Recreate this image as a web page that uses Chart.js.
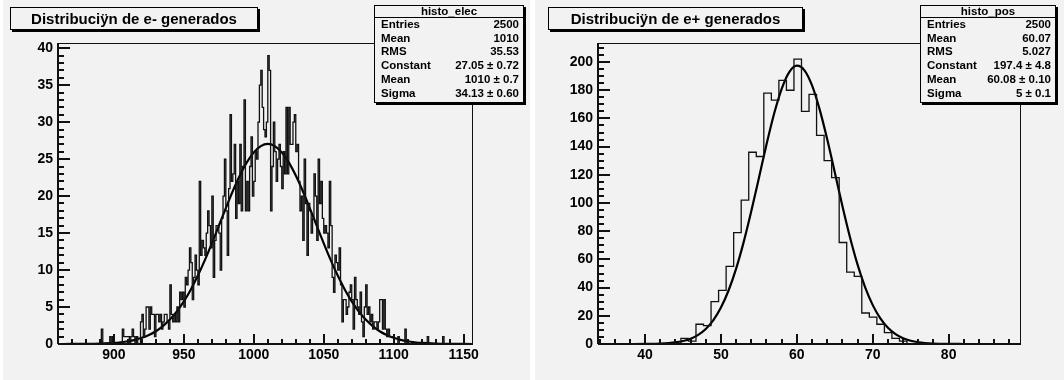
<!DOCTYPE html>
<html>
<head>
<meta charset="utf-8">
<script src="https://cdn.jsdelivr.net/npm/chart.js@4.4.1/dist/chart.umd.min.js"></script>
<style>
html, body { margin: 0; padding: 0; background: #fff; }
#wrap { position: relative; width: 1064px; height: 380px; overflow: hidden; }
.pad { position: absolute; top: 0; height: 380px; background: #f2f2f2; }
canvas { position: absolute; top: 0; }
</style>
</head>
<body>
<div id="wrap">
  <div class="pad" style="left:3px;width:527px"></div>
  <div class="pad" style="left:535px;width:529px"></div>
  <canvas id="elecChart" width="532" height="380" style="left:0"></canvas>
  <canvas id="posChart" width="532" height="380" style="left:532px"></canvas>
</div>
<script>
// histo_elec: bins of width 1 starting at 860
var elecFirstEdge = 860;
var elecBinWidth = 1;
var elecCounts = [
  0,0,0,0,0,0,0,0,0,0,
  0,0,0,0,0,0,0,0,0,0,
  0,0,0,0,0,0,0,0,0,0,
  0,0,2,0,0,0,0,0,1,0,
  1,0,0,0,0,0,0,2,1,1,
  1,1,0,1,2,1,0,1,0,0,
  3,4,1,2,5,5,2,5,4,4,
  1,4,4,3,4,2,3,4,4,3,
  2,8,4,3,4,3,5,3,7,6,
  7,5,9,8,10,13,11,6,9,12,
  10,8,22,12,14,13,12,15,18,16,
  13,20,9,14,16,16,15,10,17,20,
  25,18,12,21,31,22,23,27,17,22,
  19,27,18,24,33,18,22,18,24,28,
  20,22,26,25,30,35,37,32,29,28,
  30,39,37,18,24,30,26,22,25,27,
  24,21,26,23,32,23,32,27,27,30,
  31,26,27,22,18,20,14,25,19,12,
  19,18,15,17,23,20,14,25,19,22,
  17,15,16,15,13,22,16,9,7,12,
  11,10,13,8,3,6,6,4,5,7,
  8,6,2,9,6,5,4,7,3,1,
  5,8,4,5,3,4,2,3,3,2,
  3,6,6,2,6,2,1,2,1,1,
  1,0,0,0,1,0,0,0,0,2,
  0,0,0,0,0,0,0,0,0,0,
  0,0,0,0,0,1,0,0,0,0,
  0,0,0,0,0,0,1,0,0,0,
  0,0,0,0,0,0,0,0,0,0,
  0,0,0,0,0,0,0,0,0,0
];
var elecFitX = [860,870,880,890,900,905,910,915,920,925,930,935,940,945,950,955,960,965,970,975,980,985,990,995,
  1000,1005,1010,1015,1020,1025,1030,1035,1040,1045,1050,1055,1060,1065,1070,1075,1080,1085,1090,1095,
  1100,1105,1110,1115,1120,1130,1140,1150,1160];
var elecFitY = [0.002,0.006,0.02,0.06,0.15,0.24,0.37,0.56,0.84,1.22,1.73,2.42,3.30,4.41,5.77,7.38,9.25,11.34,13.61,15.99,18.38,20.69,22.78,24.56,
  25.91,26.76,27.05,26.76,25.91,24.56,22.78,20.69,18.38,15.99,13.61,11.34,9.25,7.38,5.77,4.41,3.30,2.42,1.73,1.22,
  0.84,0.56,0.37,0.24,0.15,0.056,0.019,0.006,0.002];
var elecXTicks = [900, 950, 1000, 1050, 1100, 1150];
var elecYTicks = [0, 5, 10, 15, 20, 25, 30, 35, 40];
var elecStats = [
  ['Entries', '2500'],
  ['Mean', '1010'],
  ['RMS', '35.53'],
  ['Constant', '27.05 \u00b1 0.72'],
  ['Mean', '1010 \u00b1 0.7'],
  ['Sigma', '34.13 \u00b1 0.60']
];

// histo_pos: 56 bins between 33.8 and 89.4
var posFirstEdge = 33.8;
var posBinWidth = 0.993;
var posCounts = [
  0,0,0,0,0,0,0,0,0,0,0,0,
  4,2,14,13,30,38,55,79,102,136,133,178,173,187,180,202,
  165,177,148,130,118,72,51,48,22,19,14,8,4,2,
  0,0,0,0,0,0,0,0,0,0,0,0,0,0
];
var posFitX = [33.8,36,38,40,42,44,45,46,47,48,49,50,51,52,53,54,55,56,57,58,59,60,61,62,63,64,65,66,67,68,69,70,
  71,72,73,74,75,76,78,80,82,84,86,89.4];
var posFitY = [0,0.002,0.011,0.06,0.29,1.12,2.09,3.74,6.45,10.66,16.94,25.88,37.96,53.5,72.43,94.26,117.8,141.5,163.3,181.0,192.9,197.4,
  194.1,183.4,166.4,145.2,121.7,97.95,75.76,56.3,40.21,27.58,18.18,11.51,7.0,4.1,2.3,1.24,0.32,0.07,0.013,0.002,0,0];
var posXTicks = [40, 50, 60, 70, 80];
var posYTicks = [0, 20, 40, 60, 80, 100, 120, 140, 160, 180, 200];
var posStats = [
  ['Entries', '2500'],
  ['Mean', '60.07'],
  ['RMS', '5.027'],
  ['Constant', '197.4 \u00b1 4.8'],
  ['Mean', '60.08 \u00b1 0.10'],
  ['Sigma', '5 \u00b1 0.1']
];

var PAD_BG = '#f2f2f2';
var FONT = '"Liberation Sans", Arial, Helvetica, sans-serif';

// per-canvas decoration (kept outside chart options)
var decor = {
  elecChart: { title: 'Distribuci\u00ffn de e- generados', titleBox: [10, 7, 248, 23],
    statsName: 'histo_elec', statsBox: [374, 5, 150, 98], stats: elecStats,
    xMin: 860, xMax: 1156, yMax: 40.7,
    yMinor: 1, yPer: 5, xMinor: 10, xPer: 5 },
  posChart: { title: 'Distribuci\u00ffn de e+ generados', titleBox: [16, 7, 255, 23],
    statsName: 'histo_pos', statsBox: [388, 5, 136, 98], stats: posStats,
    xMin: 33.8, xMax: 89.4, yMax: 213.5,
    yMinor: 5, yPer: 4, xMinor: 2, xPer: 5 }
};

function histPoints(first, width, counts) {
  var pts = [];
  for (var i = 0; i < counts.length; i++) {
    pts.push({ x: first + i * width, y: counts[i] });
  }
  pts.push({ x: first + counts.length * width, y: counts[counts.length - 1] });
  return pts;
}

function fitPoints(xs, ys) {
  return xs.map(function (x, i) { return { x: x, y: ys[i] }; });
}

function paveBox(ctx, x, y, w, h) {
  ctx.fillStyle = '#000';
  ctx.fillRect(x + 2, y + 2, w, h);
  ctx.fillStyle = PAD_BG;
  ctx.fillRect(x, y, w, h);
  ctx.strokeStyle = '#000';
  ctx.lineWidth = 1;
  ctx.strokeRect(x + 0.5, y + 0.5, w - 1, h - 1);
}

// pixel of a value on a scale, falling back to the chart area if the scale gives no number
function scalePx(scale, v, lo, hi, p0, p1) {
  var p = scale.getPixelForValue(v);
  if (typeof p !== 'number' || !isFinite(p)) p = p0 + (v - lo) / (hi - lo) * (p1 - p0);
  return Math.round(p);
}

// ROOT-like frame and inward ticks
var rootFrame = {
  id: 'rootFrame',
  afterDatasetsDraw: function (chart) {
    var o = decor[chart.canvas.id];
    var ctx = chart.ctx, a = chart.chartArea;
    var xs = chart.scales.x, ys = chart.scales.y;
    var L = Math.round(a.left), R = Math.round(a.right), T = Math.round(a.top), B = Math.round(a.bottom);
    var nY = Math.floor(o.yMax / o.yMinor + 1e-9);
    var i0 = Math.ceil(o.xMin / o.xMinor - 1e-9), i1 = Math.floor(o.xMax / o.xMinor + 1e-9);
    var i, p, len;
    ctx.save();
    ctx.fillStyle = '#111';
    ctx.fillRect(L, T, R - L + 1, 1);
    ctx.fillRect(R, T, 1, B - T);
    ctx.fillRect(L - 1, T, 2, B - T);
    ctx.fillRect(L, B - 1, R - L + 1, 2);
    for (i = 0; i <= nY; i++) {
      p = scalePx(ys, i * o.yMinor, 0, o.yMax, B, T);
      len = (i % o.yPer === 0) ? 12 : 6;
      ctx.fillRect(L, p - 1, len, 2);
    }
    for (i = i0; i <= i1; i++) {
      p = scalePx(xs, i * o.xMinor, o.xMin, o.xMax, L, R);
      len = (i % o.xPer === 0) ? 10 : 5;
      ctx.fillRect(p - 1, B - len, 2, len);
    }
    ctx.restore();
  }
};

// title and stats boxes
var rootBoxes = {
  id: 'rootBoxes',
  afterDraw: function (chart) {
    var o = decor[chart.canvas.id];
    var ctx = chart.ctx;
    var i, yy;
    ctx.save();
    var t = o.titleBox;
    paveBox(ctx, t[0], t[1], t[2], t[3]);
    ctx.fillStyle = '#000';
    ctx.font = 'bold 15px ' + FONT;
    ctx.textAlign = 'center';
    ctx.textBaseline = 'middle';
    ctx.fillText(o.title, t[0] + t[2] / 2, t[1] + t[3] / 2 + 1);

    var s = o.statsBox;
    paveBox(ctx, s[0], s[1], s[2], s[3]);
    ctx.fillStyle = '#000';
    ctx.fillRect(s[0], s[1] + 12, s[2], 1);
    ctx.font = 'bold 11.5px ' + FONT;
    ctx.textAlign = 'center';
    ctx.fillText(o.statsName, s[0] + s[2] / 2, s[1] + 7);
    for (i = 0; i < o.stats.length; i++) {
      yy = s[1] + 19.5 + i * 13.9;
      ctx.textAlign = 'left';
      ctx.fillText(o.stats[i][0], s[0] + 7, yy);
      ctx.textAlign = 'right';
      ctx.fillText(o.stats[i][1], s[0] + s[2] - 5, yy);
    }
    ctx.restore();
  }
};

function plainLabel(v) { return String(v); }

function makeChart(id, hist, fit, xr, yMax, xTicks, yTicks, padRight, yWidth, histWidth) {
  return new Chart(document.getElementById(id).getContext('2d'), {
    type: 'line',
    data: {
      datasets: [
        { data: hist, stepped: 'after', borderColor: '#111', borderWidth: histWidth, pointRadius: 0, fill: false },
        { data: fit, borderColor: '#000', borderWidth: 2.2, pointRadius: 0, fill: false, cubicInterpolationMode: 'monotone' }
      ]
    },
    options: {
      responsive: false,
      animation: false,
      events: [],
      layout: { padding: { left: 0, right: padRight, top: 43, bottom: 0 } },
      plugins: { legend: { display: false }, tooltip: { enabled: false } },
      scales: {
        x: {
          type: 'linear', min: xr[0], max: xr[1],
          grid: { display: false, drawTicks: false, tickLength: 0 }, border: { display: false },
          afterBuildTicks: function (s) { s.ticks = xTicks.map(function (v) { return { value: v }; }); },
          afterFit: function (s) { s.height = 36; },
          ticks: { autoSkip: false, maxRotation: 0, padding: 3, color: '#000', callback: plainLabel,
                   font: { family: FONT, size: 14, weight: 'bold' } }
        },
        y: {
          type: 'linear', min: 0, max: yMax,
          grid: { display: false, drawTicks: false, tickLength: 0 }, border: { display: false },
          afterBuildTicks: function (s) { s.ticks = yTicks.map(function (v) { return { value: v }; }); },
          afterFit: function (s) { s.width = yWidth; },
          ticks: { autoSkip: false, padding: 5, color: '#000', callback: plainLabel,
                   font: { family: FONT, size: 14, weight: 'bold' } }
        }
      }
    },
    plugins: [rootFrame, rootBoxes]
  });
}

makeChart('elecChart',
  histPoints(elecFirstEdge, elecBinWidth, elecCounts),
  fitPoints(elecFitX, elecFitY),
  [860, 1156], 40.7, elecXTicks, elecYTicks, 60, 58, 1.3);

makeChart('posChart',
  histPoints(posFirstEdge, posBinWidth, posCounts),
  fitPoints(posFitX, posFitY),
  [33.8, 89.4], 213.5, posXTicks, posYTicks, 44, 66, 1.3);
</script>
</body>
</html>
